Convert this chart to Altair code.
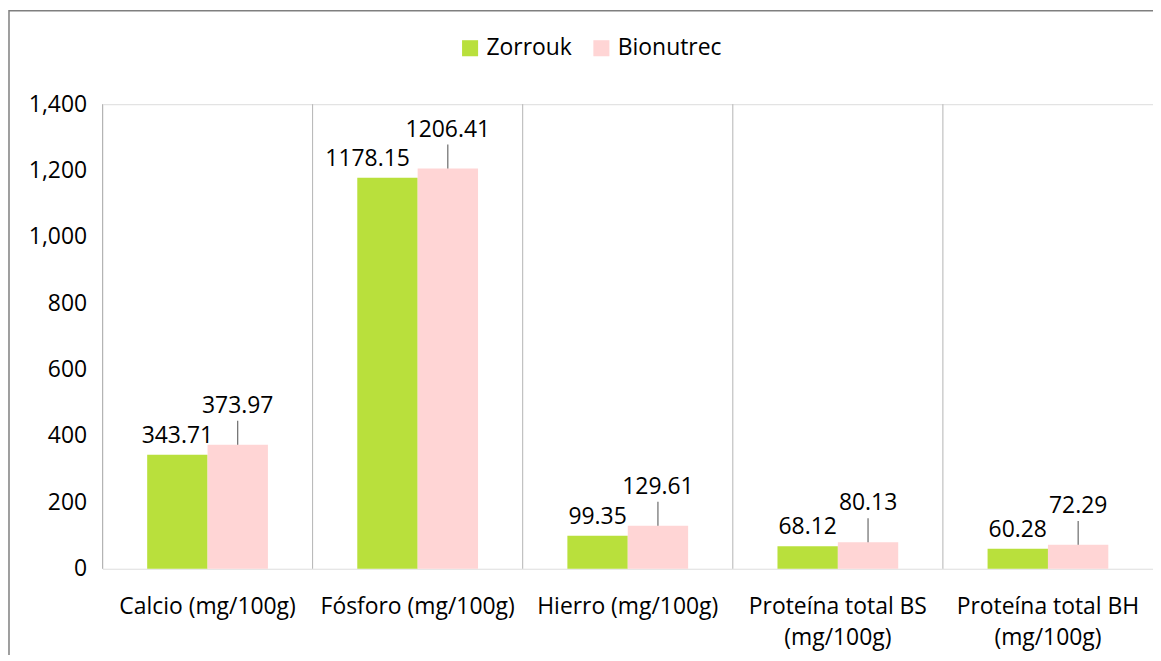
import altair as alt
import pandas as pd

categories = ["Calcio (mg/100g)", "Fósforo (mg/100g)", "Hierro (mg/100g)",
              "Proteína total BS (mg/100g)", "Proteína total BH (mg/100g)"]
series = ["Zorrouk", "Bionutrec"]
zorrouk = [343.71, 1178.15, 99.35, 68.12, 60.28]
bionutrec = [373.97, 1206.41, 129.61, 80.13, 72.29]
y_ticks = [0, 200, 400, 600, 800, 1000, 1200, 1400]
colors = ["#B9E03C", "#FFD5D5"]

rows = []
for c, z, b in zip(categories, zorrouk, bionutrec):
    rows.append({"categoria": c, "serie": "Zorrouk", "valor": z})
    rows.append({"categoria": c, "serie": "Bionutrec", "valor": b})
df = pd.DataFrame(rows)
cat_df = pd.DataFrame({"categoria": categories})
one = pd.DataFrame({"a": [0]})

FONT = "Open Sans"
FS = 23
W, H = 1056, 467

x_scale = alt.Scale(paddingInner=0, paddingOuter=0)
x_axis = alt.Axis(title=None, domain=False, ticks=False, grid=False, labelAngle=0,
                  bandPosition=0.5, labelAlign="center", labelBaseline="top",
                  labelPadding=27, labelFontSize=FS, labelColor="#000000",
                  labelLimit=0, labelLineHeight=31, labelFont=FONT,
                  labelExpr="length(datum.value) > 20 ? split(replace(datum.value, ' (', '|('), '|') : datum.value")
x_enc = alt.X("categoria:N", sort=categories, scale=x_scale, axis=x_axis)
xo_enc = alt.XOffset("serie:N", sort=series,
                     scale=alt.Scale(paddingInner=0, paddingOuter=0.74))
y_enc = alt.Y("valor:Q", scale=alt.Scale(domain=[0, 1400], nice=False),
              axis=alt.Axis(title=None, domain=False, ticks=False, grid=False,
                            values=y_ticks, format=",.0f", labelFontSize=FS,
                            labelPadding=16, labelColor="#000000", labelFont=FONT))

base = alt.Chart(df)

grid = alt.Chart(cat_df).mark_rule(color="#B3B3B3", strokeWidth=1).encode(
    x=alt.X("categoria:N", sort=categories, scale=x_scale, axis=x_axis, bandPosition=0)
)

bars = base.mark_bar().encode(
    x=x_enc, xOffset=xo_enc, y=y_enc,
    color=alt.Color("serie:N", sort=series,
                    scale=alt.Scale(domain=series, range=colors),
                    legend=alt.Legend(title=None, orient="none", direction="horizontal",
                                      legendX=358, legendY=-68, symbolType="square",
                                      symbolSize=260, symbolStrokeWidth=0,
                                      labelFontSize=FS, labelFont=FONT,
                                      labelColor="#000000", columnPadding=18,
                                      symbolOffset=0, labelOffset=5))
)

green_lbl = base.transform_filter(
    (alt.datum.serie == "Zorrouk") & (alt.datum.categoria != categories[1])
).mark_text(baseline="bottom", dy=-7, fontSize=FS, font=FONT, color="#000000").encode(
    x=x_enc, xOffset=xo_enc, y=y_enc, text=alt.Text("valor:Q", format=".2f"))

green_lbl_shift = base.transform_filter(
    (alt.datum.serie == "Zorrouk") & (alt.datum.categoria == categories[1])
).mark_text(baseline="bottom", dy=-7, dx=-20, fontSize=FS, font=FONT, color="#000000").encode(
    x=x_enc, xOffset=xo_enc, y=y_enc, text=alt.Text("valor:Q", format=".2f"))

pink_lbl = base.transform_filter(alt.datum.serie == "Bionutrec").mark_text(
    baseline="bottom", dy=-27, fontSize=FS, font=FONT, color="#000000").encode(
    x=x_enc, xOffset=xo_enc, y=y_enc, text=alt.Text("valor:Q", format=".2f"))

leader = base.transform_filter(alt.datum.serie == "Bionutrec").mark_tick(
    orient="vertical", size=24, thickness=1, yOffset=-12, color="#000000").encode(
    x=x_enc, xOffset=xo_enc, y=y_enc)

border = alt.Chart(one).mark_rect(fill="transparent", stroke="#7F7F7F", strokeWidth=1.5).encode(
    x=alt.value(-94), x2=alt.value(W + 200), y=alt.value(-94), y2=alt.value(H + 300))

chart = alt.layer(grid, bars, leader, green_lbl, green_lbl_shift, pink_lbl, border).properties(
    width=W, height=H,
    padding={"left": 95, "top": 95, "right": 0, "bottom": 85},
    autosize=alt.AutoSizeParams(type="none"),
    background="#FFFFFF",
).configure_view(stroke="#B3B3B3", strokeWidth=1).configure(font=FONT)

chart.save("out.html", embed_options={"renderer": "svg", "actions": False})
